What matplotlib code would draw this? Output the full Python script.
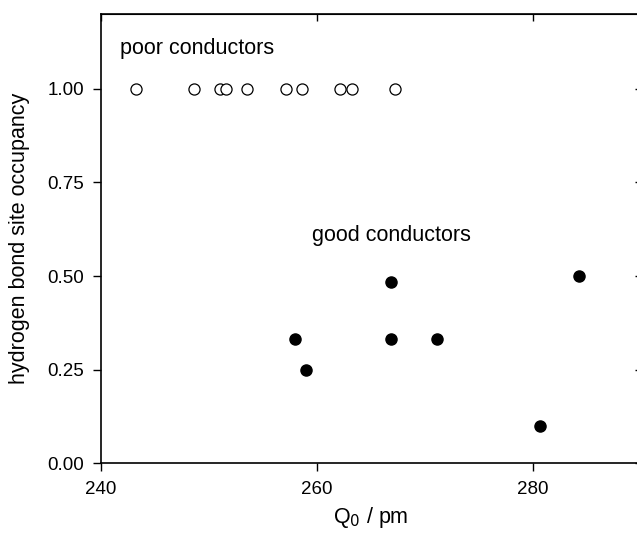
import matplotlib
matplotlib.use("Agg")
import matplotlib.pyplot as plt

plt.rcParams['font.family'] = ['Liberation Sans', 'DejaVu Sans']

# poor conductors: fully occupied hydrogen bond sites
poor_q = [243.3, 248.7, 251.1, 251.6, 253.6, 257.2, 258.7, 262.2, 263.3, 267.3]
poor_occ = [1.0] * len(poor_q)

# good conductors: partially occupied sites
good_q = [258.0, 259.0, 266.9, 266.9, 271.2, 280.7, 284.3]
good_occ = [0.333, 0.25, 0.333, 0.485, 0.333, 0.10, 0.50]

x_ticks = [240, 260, 280]
y_ticks = [0.00, 0.25, 0.50, 0.75, 1.00]

fig = plt.figure(figsize=(6.37, 5.34), dpi=100)
ax = fig.add_axes([0.1578, 0.1326, 0.8477, 0.8412])

ax.plot(poor_q, poor_occ, linestyle='none', marker='o', markersize=8,
        markerfacecolor='white', markeredgecolor='black', markeredgewidth=0.9)
ax.plot(good_q, good_occ, linestyle='none', marker='o', markersize=8,
        markerfacecolor='black', markeredgecolor='black')

ax.set_xlim(240, 290)
ax.set_ylim(0, 1.2)
ax.set_xticks(x_ticks)
ax.set_yticks(y_ticks)
ax.set_yticklabels([f"{v:.2f}" for v in y_ticks])

ax.tick_params(axis='both', which='major', direction='out', length=6,
               width=1, labelsize=13.5, top=False, right=False)
ax.tick_params(axis='x', pad=7)
ax.tick_params(axis='y', pad=6)

# inward ticks on top and right
sec_x = ax.secondary_xaxis('top')
sec_x.set_xticks(x_ticks)
sec_x.tick_params(direction='in', length=5, width=1, labeltop=False)
sec_y = ax.secondary_yaxis('right')
sec_y.set_yticks(y_ticks)
sec_y.tick_params(direction='in', length=4, width=1, labelright=False)

for s in ax.spines.values():
    s.set_linewidth(1.2)

ax.text(241.8, 1.109, "poor conductors", fontsize=15.5, va='center', ha='left')
ax.text(259.6, 0.609, "good conductors", fontsize=15.5, va='center', ha='left')

ax.set_ylabel("hydrogen bond site occupancy", fontsize=15.5, labelpad=12)
ax.set_xlabel("Q$_0$ / pm", fontsize=15.5, labelpad=5)

fig.savefig("out.png", dpi=100)
